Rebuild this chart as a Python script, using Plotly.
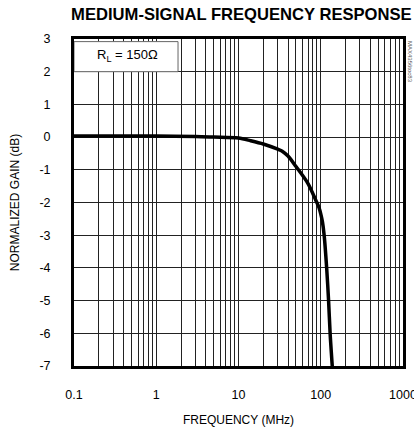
import plotly.graph_objects as go

# Data
freq_mhz = [0.1, 0.3, 1, 3, 5, 10, 14, 20, 30, 34, 40, 50, 70, 87, 95, 100, 105, 110, 118, 124.5, 130, 138]
gain_db = [0.03, 0.03, 0.03, 0.02, 0.0, -0.03, -0.11, -0.21, -0.37, -0.43, -0.58, -0.9, -1.42, -1.93, -2.15, -2.35, -2.6, -3.0, -4.0, -5.0, -6.0, -7.0]

x_tickvals = [m * 10 ** e for e in range(-1, 3) for m in range(1, 10)] + [1000]
x_ticktext = []
for e in range(-1, 3):
    for m in range(1, 10):
        x_ticktext.append({-1: "0.1", 0: "1", 1: "10", 2: "100"}[e] if m == 1 else " ")
x_ticktext.append("1000")

y_tickvals = [3, 2, 1, 0, -1, -2, -3, -4, -5, -6, -7]
y_ticktext = ["3", "2", "1", "0", "-1", "-2", "-3", "-4", "-5", "-6", "-7"]

font_family = "Liberation Sans, Arial, sans-serif"

fig = go.Figure()
fig.add_trace(go.Scatter(
    x=freq_mhz, y=gain_db, mode="lines",
    line=dict(color="black", width=3.5, shape="spline", smoothing=0.8),
    showlegend=False, hoverinfo="skip",
))

fig.update_layout(
    width=414, height=430,
    margin=dict(l=74, r=11, t=39, b=64, autoexpand=False),
    paper_bgcolor="white", plot_bgcolor="white",
    font=dict(family=font_family, size=12, color="black"),
    title=dict(text="<b>MEDIUM-SIGNAL FREQUENCY RESPONSE</b>",
               x=0.583, xanchor="center", y=0.968, yanchor="middle",
               font=dict(size=16.6, family=font_family, color="black")),
    xaxis=dict(
        type="log", range=[-1, 3], automargin=False,
        tickvals=x_tickvals, ticktext=x_ticktext, tickangle=0,
        ticklabeloverflow="allow",
        showgrid=True, gridcolor="#222", gridwidth=1,
        showline=True, linecolor="black", linewidth=3, mirror=True,
        ticks="", ticklabelstandoff=15,
        tickfont=dict(size=12.5),
        title=dict(text="FREQUENCY (MHz)", font=dict(size=12), standoff=15),
        zeroline=False,
    ),
    yaxis=dict(
        range=[-7, 3], automargin=False,
        tickvals=y_tickvals, ticktext=y_ticktext,
        showgrid=True, gridcolor="#222", gridwidth=1,
        showline=True, linecolor="black", linewidth=3, mirror=True,
        ticks="", ticklabelstandoff=18,
        tickfont=dict(size=12.5),
        title=dict(text="NORMALIZED GAIN (dB)", font=dict(size=12), standoff=18),
        zeroline=False,
    ),
)

# Label box covering the grid at top left
fig.add_shape(type="rect", xref="x", yref="y", x0=0.1, x1=1.84, y0=2, y1=2.92,
              fillcolor="white", line=dict(color="#666", width=1), layer="above")
fig.add_annotation(x=-0.35, y=2.5, xref="x", yref="y", text="R<sub>L</sub> = 150Ω",
                   showarrow=False, font=dict(size=13, family=font_family), xanchor="center")
fig.add_annotation(x=1.0, y=1.0, xref="paper", yref="paper", xshift=7, yshift=0,
                   text="MAX4356toc83", textangle=90, showarrow=False,
                   font=dict(size=6, color="#555", family=font_family),
                   xanchor="center", yanchor="top")

fig.write_html("out.html", config={"displayModeBar": False},
               post_script="document.body.style.margin='0';document.body.style.overflow='hidden';")
